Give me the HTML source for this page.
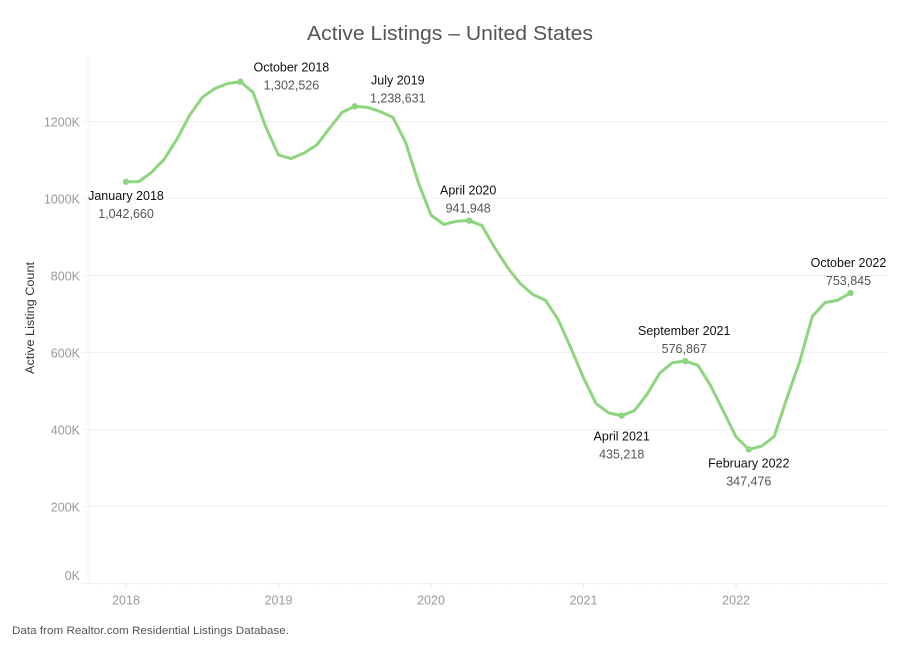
<!DOCTYPE html>
<html lang="en">
<head>
<meta charset="utf-8">
<title>Active Listings – United States</title>
<style>
html,body{margin:0;padding:0;background:#fff;}
svg{display:block;font-family:"Liberation Sans",sans-serif;}
</style>
</head>
<body>
<svg id="chart" xmlns="http://www.w3.org/2000/svg" width="899" height="649" viewBox="0 0 899 649">
  <text x="450" y="40" text-anchor="middle" font-size="20" fill="#555" textLength="286" lengthAdjust="spacingAndGlyphs">Active Listings – United States</text>
  <text transform="translate(34,318) rotate(-90)" text-anchor="middle" font-size="11.5" fill="#333" textLength="112" lengthAdjust="spacingAndGlyphs">Active Listing Count</text>
  <text x="12" y="634" font-size="11" fill="#555" textLength="277" lengthAdjust="spacingAndGlyphs">Data from Realtor.com Residential Listings Database.</text>
</svg>
<script>
const monthNames = ['January','February','March','April','May','June','July','August','September','October','November','December'];
const startYear = 2018;
const listingCounts = [
  1042660,1043000,1067000,1101000,1153000,1215000,1262000,1285000,1298000,1302526,1275000,1185000,
  1112000,1103000,1117000,1138000,1181000,1223000,1238631,1236000,1225000,1210000,1145000,1041000,
  956000,932000,940000,941948,929000,872000,821000,779000,750000,735000,685000,611000,
  533000,466000,442000,435218,448000,491000,546000,573000,576867,566000,513000,447000,
  380000,347476,356000,381000,481000,575000,693000,729000,735000,753845
];
const yTickValues = [0,200,400,600,800,1000,1200];
const yearTicks = [2018,2019,2020,2021,2022];
const annotatedMonths = [0,9,18,27,39,44,49,57];

const svg = document.getElementById('chart');
const NS = 'http://www.w3.org/2000/svg';
const plot = {left:88, right:888, top:55, bottom:583.2};
const xAxis = m => 126 + m * 12.71;
const yAxis = v => plot.bottom - v * 0.000385;
const calloutLayout = {
  0:{dx:0,dy:18},
  9:{dx:51,dy:-10},
  18:{dx:43,dy:-22},
  27:{dx:-1,dy:-26},
  39:{dx:0,dy:25},
  44:{dx:-1,dy:-26},
  49:{dx:0,dy:18},
  57:{dx:-2,dy:-26}
};

function make(tag, attrs, text){
  const el = document.createElementNS(NS, tag);
  for (const k in attrs) el.setAttribute(k, attrs[k]);
  if (text !== undefined) el.textContent = text;
  svg.appendChild(el);
  return el;
}

const yAxisLine = make('line',{x1:plot.left,x2:plot.left,y1:plot.top,y2:plot.bottom,stroke:'#f0f0f0','stroke-width':1});



yTickValues.forEach(k => {
  const y = Math.floor(yAxis(k*1000)) + 0.5;
  const grid = make('line',{x1:83,x2:plot.right,y1:y,y2:y,stroke:'#f0f0f0','stroke-width':1});
  
  
  const labelY = k === 0 ? y - 3.5 : y + 5;
  const label = make('text',{x:80,y:labelY,'text-anchor':'end','font-size':12.5,fill:'#999'},k+'K');
  
  
});

for (let m = -3; m <= 59; m++) {
  const major = ((m % 12) + 12) % 12 === 0;
  const t = make('line',{x1:xAxis(m),x2:xAxis(m),y1:plot.bottom,y2:plot.bottom+(major?4:2),stroke:major?'#e2e2e2':'#f0f0f0','stroke-width':1});
  
  
}

yearTicks.forEach(yr => {
  const label = make('text',{x:xAxis((yr-startYear)*12),y:604.5,'text-anchor':'middle','font-size':12.5,fill:'#999'},String(yr));
  
  
});

const linePath = listingCounts.map((v,i)=>(i?'L':'M')+xAxis(i).toFixed(2)+' '+yAxis(v).toFixed(2)).join(' ');
const line = make('path',{d:linePath,fill:'none',stroke:'#8dd57e','stroke-width':3,'stroke-linejoin':'round','stroke-linecap':'round'});



annotatedMonths.forEach(i => {
  const v = listingCounts[i];
  const px = xAxis(i), py = yAxis(v);
  const layout = calloutLayout[i];
  const dot = make('circle',{cx:px,cy:py,r:3.2,fill:'#8dd57e'});
  
  
  const month = monthNames[i % 12] + ' ' + (startYear + Math.floor(i / 12));
  const nameLabel = make('text',{x:px+layout.dx,y:py+layout.dy,'text-anchor':'middle','font-size':12.5,fill:'#111'},month);
  
  
  const valueLabel = make('text',{x:px+layout.dx,y:py+layout.dy+18,'text-anchor':'middle','font-size':12.5,fill:'#555'},v.toLocaleString('en-US'));
  
  
});
</script>
</body>
</html>
